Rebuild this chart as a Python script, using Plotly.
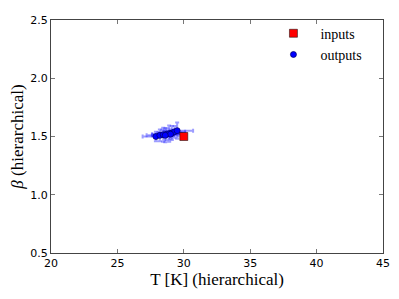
import plotly.graph_objects as go

# data
input_T = [30.0]
input_beta = [1.5]

output_T = [27.9, 28.2, 28.45, 28.7, 28.9, 29.1, 29.3, 29.5, 29.0, 28.6]
output_beta = [1.50, 1.51, 1.515, 1.52, 1.525, 1.53, 1.54, 1.55, 1.52, 1.51]
output_T_err = [1.0, 1.0, 0.8, 1.1, 0.9, 1.0, 0.8, 1.2, 0.9, 1.0]
output_beta_err = [0.04, 0.05, 0.06, 0.05, 0.07, 0.06, 0.05, 0.07, 0.04, 0.06]

x_ticks = [20, 25, 30, 35, 40, 45]
y_ticks = [0.5, 1.0, 1.5, 2.0, 2.5]
y_tick_text = ["0.5", "1.0", "1.5", "2.0", "2.5"]

fig = go.Figure()

fig.add_trace(go.Scatter(
    x=output_T, y=output_beta, mode="markers", name="\u00a0\u00a0outputs",
    marker=dict(color="blue", size=6, symbol="circle",
                line=dict(color="#000060", width=0.7)),
    error_x=dict(type="data", array=output_T_err, color="rgba(40,40,255,0.45)",
                 thickness=2, width=2),
    error_y=dict(type="data", array=output_beta_err, color="rgba(40,40,255,0.45)",
                 thickness=2, width=2),
))
fig.add_trace(go.Scatter(
    x=input_T, y=input_beta, mode="markers", name="\u00a0\u00a0inputs",
    marker=dict(color="red", size=8, symbol="square",
                line=dict(color="black", width=0.5)),
))

axis_common = dict(
    showgrid=False, zeroline=False, showline=True, linecolor="#444",
    linewidth=1, mirror="ticks", ticks="inside", ticklen=4, tickcolor="#777",
    tickfont=dict(family="DejaVu Sans", size=11, color="black"),
)

fig.update_xaxes(range=[20, 45], tickvals=x_ticks,
                 title=dict(text="T [K] (hierarchical)", standoff=2,
                            font=dict(family="Liberation Serif", size=17, color="black")),
                 **axis_common)
fig.update_yaxes(range=[0.5, 2.5], tickvals=y_ticks, ticktext=y_tick_text,
                 title=dict(text="<i>β</i> (hierarchical)", standoff=4,
                            font=dict(family="Liberation Serif", size=17, color="black")),
                 **axis_common)

fig.update_layout(
    width=391, height=291,
    margin=dict(l=43, r=16, t=6, b=46),
    plot_bgcolor="white", paper_bgcolor="white",
    legend=dict(x=0.67, y=1.01, xanchor="left", yanchor="top",
                traceorder="reversed",
                font=dict(family="Liberation Serif", size=14, color="black"),
                bgcolor="rgba(0,0,0,0)", itemwidth=30),
    showlegend=True,
)

fig.write_html("out.html")
